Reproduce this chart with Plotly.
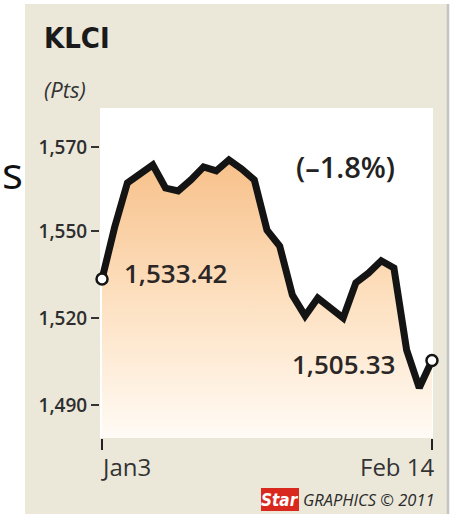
import plotly.graph_objects as go

# ---- data ----
dates = ["2011-01-03", "2011-01-04", "2011-01-05", "2011-01-06", "2011-01-07",
         "2011-01-10", "2011-01-11", "2011-01-12", "2011-01-13", "2011-01-14",
         "2011-01-17", "2011-01-18", "2011-01-19", "2011-01-21",
         "2011-01-24", "2011-01-25", "2011-01-26", "2011-01-27", "2011-01-28",
         "2011-01-31", "2011-02-02",
         "2011-02-07", "2011-02-08", "2011-02-09", "2011-02-10", "2011-02-11",
         "2011-02-14"]
klci = [1533.42, 1551.4, 1566.6, 1570.0, 1572.8, 1564.8, 1563.8, 1567.6, 1572.1,
        1570.7, 1574.5, 1571.4, 1567.6, 1550.3, 1544.8, 1527.9, 1520.7, 1526.9,
        1523.8, 1520.0, 1532.1, 1535.5, 1539.7, 1537.2, 1509.0, 1495.9, 1505.33]
ytick_vals = [1490, 1520, 1550, 1579]
ytick_text = ["1,490", "1,520", "1,550", "1,570"]
xtick_text = ["Jan3", "Feb 14"]
start_label = "1,533.42"
end_label = "1,505.33"
change_label = "(\u20131.8%)"

W, H = 455, 523
L, R, T, B = 100, 433, 108, 438


def px(x):
    return (x - L) / (R - L)


def py(y):
    return (B - y) / (B - T)


NARROW = "Liberation Sans Narrow, DejaVu Sans Condensed, sans-serif"
SANS = "Open Sans, Noto Sans, sans-serif"
DARK = "#2a2726"

fig = go.Figure()
fig.add_trace(go.Scatter(
    x=dates, y=klci, mode="lines",
    line=dict(color="#141414", width=7),
    fill="tozeroy",
    fillgradient=dict(type="vertical", start=1478.6, stop=1575,
                      colorscale=[[0, "#fffbf5"], [0.5, "#fde0c0"], [1, "#f7c089"]]),
    hoverinfo="skip", showlegend=False))
fig.add_trace(go.Scatter(
    x=[dates[0], dates[-1]], y=[klci[0], klci[-1]], mode="markers",
    marker=dict(size=11, color="white", line=dict(color="#141414", width=2.5)),
    cliponaxis=False, hoverinfo="skip", showlegend=False))

shapes = [
    dict(type="rect", xref="paper", yref="paper", layer="below",
         x0=px(25), x1=px(447), y0=py(514), y1=py(4),
         fillcolor="#ebe8da", line=dict(width=0)),
    dict(type="line", xref="paper", yref="paper", layer="below",
         x0=px(448), x1=px(448), y0=py(514), y1=py(4),
         line=dict(color="#c4c4c4", width=2.5)),
    dict(type="rect", xref="paper", yref="paper", layer="below",
         x0=0, x1=1, y0=0, y1=1, fillcolor="white", line=dict(width=0)),
    dict(type="rect", xref="paper", yref="paper", layer="above",
         x0=px(261), x1=px(299), y0=py(511), y1=py(488),
         fillcolor="#d9291f", line=dict(width=0)),
]

ann = [
    dict(text="<b>KLCI</b>", x=px(42), y=py(38), xanchor="left", yanchor="middle",
         font=dict(family=NARROW, size=29, color="#1a1a1a")),
    dict(text="<i>(Pts)</i>", x=px(42), y=py(89), xanchor="left", yanchor="middle",
         font=dict(family=SANS, size=22, color="#333333")),
    dict(text=start_label, x=px(122), y=py(273), xanchor="left", yanchor="middle",
         font=dict(family=SANS, size=26, color=DARK, weight=600)),
    dict(text=end_label, x=px(397), y=py(364), xanchor="right", yanchor="middle",
         font=dict(family=SANS, size=26, color=DARK, weight=600)),
    dict(text=change_label, x=px(345), y=py(166), xanchor="center", yanchor="middle",
         font=dict(family=SANS, size=29, color="#222222", weight=600)),
    dict(text=xtick_text[0], x=px(99), y=py(466), xanchor="left", yanchor="middle",
         font=dict(family=SANS, size=24, color="#333333")),
    dict(text=xtick_text[1], x=px(437), y=py(466), xanchor="right", yanchor="middle",
         font=dict(family=SANS, size=24, color="#333333")),
    dict(text="<b><i>Star</i></b>", x=px(280), y=py(499.5), xanchor="center", yanchor="middle",
         font=dict(family=NARROW, size=17, color="white")),
    dict(text="<i>GRAPHICS \u00a9 2011</i>", x=px(437), y=py(499), xanchor="right", yanchor="middle",
         font=dict(family=SANS, size=16.5, color="#2a2a2a")),
    dict(text="s", x=px(25), y=py(172), xanchor="right", yanchor="middle",
         font=dict(family=SANS, size=44, color="#111111")),
]
for a in ann:
    a.update(xref="paper", yref="paper", showarrow=False)

fig.update_layout(
    width=W, height=H,
    margin=dict(l=L, r=W - R, t=T, b=H - B, pad=0),
    paper_bgcolor="white", plot_bgcolor="white",
    shapes=shapes, annotations=ann, showlegend=False,
    xaxis=dict(type="category", range=[-0.16, 26.08], showgrid=False, zeroline=False,
               showline=False, tickmode="array", tickvals=[dates[0], dates[-1]],
               ticktext=["", ""], ticks="outside", ticklen=11, tickwidth=2,
               tickcolor="#222222", fixedrange=True),
    yaxis=dict(range=[1478.6, 1592.4], showgrid=False, zeroline=False, showline=False,
               tickmode="array", tickvals=ytick_vals, ticktext=ytick_text,
               ticks="outside", ticklen=8, tickwidth=2, tickcolor="#333333",
               tickfont=dict(family=SANS, size=19, color="#2e2e2e", weight=600),
               fixedrange=True),
)

fig.write_html("out.html")
